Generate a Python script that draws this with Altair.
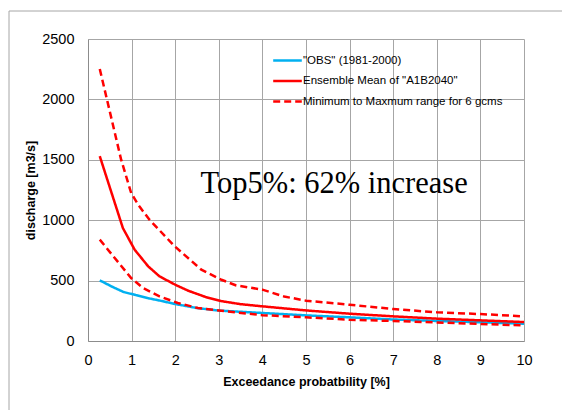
import altair as alt
import pandas as pd

# ---- data ----
SER_OBS = '"OBS" (1981-2000)'
SER_ENS = 'Ensemble Mean of "A1B2040"'
SER_RNG = 'Minimum to Maxmum range for 6 gcms'
series_order = [SER_OBS, SER_ENS, SER_RNG]

obs_x = [0.27, 0.55, 0.82, 1.1, 1.37, 1.64, 2.0, 2.5, 3.0, 4.0, 5.0, 6.0, 7.0, 8.0, 9.0, 10.0]
obs_y = [502, 450, 405, 380, 355, 335, 306, 273, 252, 232, 212, 196, 178, 166, 155, 143]

ens_x = [0.27, 0.8, 1.07, 1.38, 1.64, 2.0, 2.3, 2.7, 3.06, 3.5, 4.0, 5.0, 6.0, 7.0, 8.0, 9.0, 10.0]
ens_y = [1530, 935, 756, 618, 535, 466, 416, 364, 330, 305, 287, 253, 226, 204, 185, 171, 157]

max_x = [0.27, 0.76, 0.99, 1.15, 1.41, 1.99, 2.6, 3.06, 3.4, 4.0, 4.5, 5.0, 6.0, 7.0, 8.0, 9.0, 10.0]
max_y = [2252, 1501, 1225, 1128, 1004, 783, 590, 507, 460, 425, 368, 334, 300, 265, 237, 223, 204]

min_x = [0.27, 0.99, 1.26, 1.64, 2.06, 2.52, 3.0, 4.0, 5.0, 6.0, 7.0, 8.0, 9.0, 10.0]
min_y = [839, 521, 439, 369, 315, 273, 252, 214, 196, 176, 166, 154, 141, 129]

x_ticks = [0, 1, 2, 3, 4, 5, 6, 7, 8, 9, 10]
y_ticks = [0, 500, 1000, 1500, 2000, 2500]

annot_text = ["Top5%: 62% increase"]
annot_x = [2.58]
annot_y = [1225]

rows = []
for name, line, xs, ys in [
    (SER_OBS, "obs", obs_x, obs_y),
    (SER_ENS, "ens", ens_x, ens_y),
    (SER_RNG, "max", max_x, max_y),
    (SER_RNG, "min", min_x, min_y),
]:
    for xv, yv in zip(xs, ys):
        rows.append({"series": name, "line": line, "x": xv, "y": yv})
df = pd.DataFrame(rows)
df_ann = pd.DataFrame({"x": annot_x, "y": annot_y, "t": annot_text})

legend = alt.Legend(
    orient="none", legendX=187, legendY=9, direction="vertical",
    symbolType="M-1.3,0H1.3", symbolSize=484, symbolStrokeWidth=2.5,
    labelFont="Liberation Sans", labelFontSize=11.5, labelColor="black",
    labelLimit=400, rowPadding=2.5, labelOffset=3, padding=0,
)

x_enc = alt.X("x:Q", scale=alt.Scale(domain=[0, 10], nice=False),
              axis=alt.Axis(values=x_ticks, title="Exceedance probatbility [%]",
                            labelPadding=12, titlePadding=9, labelFlush=False))
y_enc = alt.Y("y:Q", scale=alt.Scale(domain=[0, 2500], nice=False),
              axis=alt.Axis(values=y_ticks, format="d", title="discharge [m3/s]",
                            labelPadding=14, titlePadding=4))

frame = alt.Chart(df_ann).mark_rect(fill="transparent", stroke="#a6a6a6", strokeWidth=1).encode(
    x=alt.value(-79), x2=alt.value(520), y=alt.value(-28), y2=alt.value(420)
)

lines = alt.Chart(df).mark_line(strokeWidth=2.5, clip=True).encode(
    x=x_enc,
    y=y_enc,
    color=alt.Color("series:N", title=None,
                    scale=alt.Scale(domain=series_order, range=["#00b0f0", "#ff0000", "#ff0000"]),
                    legend=legend),
    strokeDash=alt.StrokeDash("series:N", title=None,
                              scale=alt.Scale(domain=series_order, range=[[1, 0], [1, 0], [7, 4]]),
                              legend=legend),
    detail="line:N",
)

annot = alt.Chart(df_ann).mark_text(align="left", baseline="alphabetic",
                                    font="Liberation Serif", fontSize=30.5, color="black").encode(
    x="x:Q", y="y:Q", text="t:N"
)

chart = alt.layer(frame, lines, annot).properties(
    width=436, height=302,
    autosize=alt.AutoSizeParams(type="none"),
    padding={"left": 88, "top": 39, "right": 38, "bottom": 69},
    background="white",
).configure_view(strokeWidth=0).configure_axis(
    labelFont="Liberation Sans", labelFontSize=14.5, labelColor="black",
    titleFont="Liberation Sans", titleFontSize=12.5, titleFontWeight="bold", titleColor="black",
    gridColor="#a6a6a6", gridWidth=1, domainColor="#8c8c8c", domainWidth=1,
    ticks=False, tickSize=0,
)

chart.save("out.html", embed_options={"renderer": "svg", "actions": False})
